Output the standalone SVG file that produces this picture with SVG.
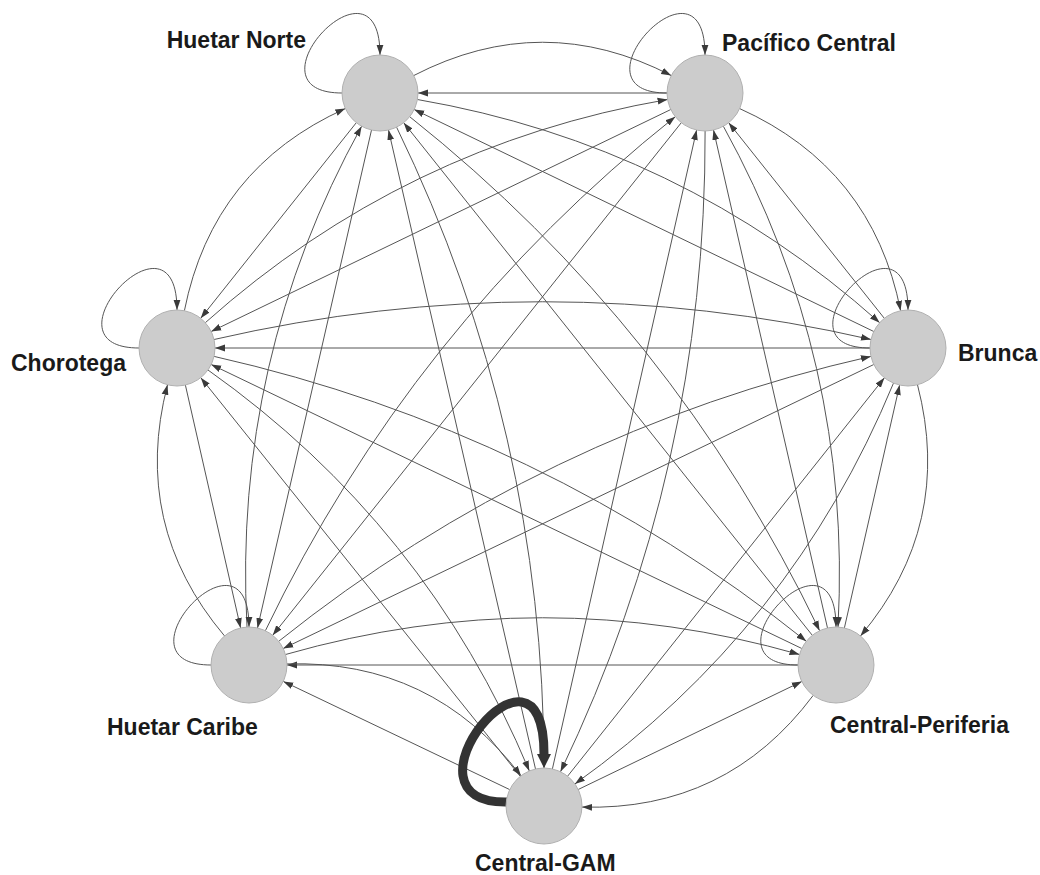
<svg xmlns="http://www.w3.org/2000/svg" width="1040" height="875" viewBox="0 0 1040 875">
<defs>
<marker id="arr" markerUnits="userSpaceOnUse" markerWidth="11" markerHeight="8" refX="10" refY="4" orient="auto">
<path d="M0,0.6 L10,4 L0,7.4 z" fill="#3a3a3a"/>
</marker>
<marker id="arrBig" markerUnits="userSpaceOnUse" markerWidth="16" markerHeight="16" refX="0" refY="8" orient="auto">
<path d="M0,1 L14,8 L0,15 z" fill="#333"/>
</marker>
<style>
.e{fill:none;stroke:#555;stroke-width:1;marker-end:url(#arr)}
.loop{fill:none;stroke:#555;stroke-width:1;marker-end:url(#arr)}
.big{fill:none;stroke:#333;stroke-width:9;marker-end:url(#arrBig)}
.n{fill:#cccccc;stroke:#b0b0b0;stroke-width:1}
.l{font-family:"Liberation Sans",Arial,Helvetica,sans-serif;font-weight:bold;font-size:23px;fill:#1a1a1a}
</style>
</defs>
<rect width="1040" height="875" fill="#fff"/>
<g id="connectors">
<path class="e" d="M667,93 L418,93"/>
<path class="e" d="M873.8,331.5 L414.2,109.5"/>
<path class="e" d="M812.3,635.3 L403.7,122.7"/>
<path class="e" d="M535.5,769 L388.5,130"/>
<path class="e" d="M371.5,130 L257.5,628"/>
<path class="e" d="M356.3,122.7 L200.7,318.3"/>
<path class="e" d="M884.3,318.3 L728.7,122.7"/>
<path class="e" d="M827.5,628 L713.5,130"/>
<path class="e" d="M552.4,768.9 L696.6,130.1"/>
<path class="e" d="M681.3,122.7 L272.7,635.3"/>
<path class="e" d="M670.8,109.5 L211.2,331.5"/>
<path class="e" d="M844.4,627.9 L899.6,385.1"/>
<path class="e" d="M567.6,776.2 L884.4,377.8"/>
<path class="e" d="M873.8,364.5 L283.2,648.5"/>
<path class="e" d="M870,348 L215,348"/>
<path class="e" d="M578.2,789.5 L801.8,681.5"/>
<path class="e" d="M798,665 L287,665"/>
<path class="e" d="M801.8,648.5 L211.2,364.5"/>
<path class="e" d="M509.7,789.6 L283.3,681.4"/>
<path class="e" d="M520.2,776.3 L200.8,377.7"/>
<path class="e" d="M185.4,385.1 L240.6,627.9"/>
<path class="e" d="M413.8,75.5 Q542.5,9 671.2,75.5"/>
<path class="e" d="M417.4,99.5 Q680.5,144.9 879.7,322.7"/>
<path class="e" d="M409.7,116.7 Q673.7,326.6 819.6,630.7"/>
<path class="e" d="M396.6,127.2 Q543.9,430.7 544,768"/>
<path class="e" d="M247,627 Q232.6,360.3 361.6,126.3"/>
<path class="e" d="M184.4,310.7 Q212.8,168.2 345.3,108.6"/>
<path class="e" d="M739.7,108.6 Q872.2,168.2 900.6,310.7"/>
<path class="e" d="M723.4,126.3 Q852.4,360.3 838,627"/>
<path class="e" d="M705.1,131 Q706.4,468 560.5,771.8"/>
<path class="e" d="M265.4,630.7 Q411.3,326.6 675.3,116.7"/>
<path class="e" d="M205.3,322.7 Q404.5,144.9 667.6,99.5"/>
<path class="e" d="M917.5,384.8 Q953.9,525.1 860.5,635.9"/>
<path class="e" d="M893.5,383.1 Q791.8,629.3 574.9,783.9"/>
<path class="e" d="M278.7,641.3 Q542.1,430.8 870.9,356.4"/>
<path class="e" d="M214,339.5 Q542.5,264 871,339.5"/>
<path class="e" d="M813.2,695.4 Q726.5,811.1 582,807.1"/>
<path class="e" d="M285.5,654.5 Q542.5,581 799.5,654.5"/>
<path class="e" d="M214.1,356.4 Q542.9,430.8 806.3,641.3"/>
<path class="e" d="M287,663.9 Q432.7,659.7 521,775.8"/>
<path class="e" d="M208,370 Q426.1,524.5 529.3,770.9"/>
<path class="e" d="M224.5,635.9 Q131.1,525.1 167.5,384.8"/>
<path class="loop" d="M342,93 C240,93 380,-57 380,55"/>
<path class="loop" d="M667,93 C565,93 705,-57 705,55"/>
<path class="loop" d="M139,348 C37,348 177,198 177,310"/>
<path class="loop" d="M870,348 C768,348 908,198 908,310"/>
<path class="loop" d="M211,665 C109,665 249,515 249,627"/>
<path class="loop" d="M798,665 C696,665 836,515 836,627"/>
<path class="big" d="M508,802 C388,805 544,612 544,754"/>
</g>
<g id="node-huetar-norte"><circle class="n" cx="380" cy="93" r="38"/><text class="l" x="306" y="48" text-anchor="end">Huetar Norte</text></g>
<g id="node-pacifico-central"><circle class="n" cx="705" cy="93" r="38"/><text class="l" x="722" y="51">Pacífico Central</text></g>
<g id="node-chorotega"><circle class="n" cx="177" cy="348" r="38"/><text class="l" x="11" y="371">Chorotega</text></g>
<g id="node-brunca"><circle class="n" cx="908" cy="348" r="38"/><text class="l" x="958" y="361">Brunca</text></g>
<g id="node-huetar-caribe"><circle class="n" cx="249" cy="665" r="38"/><text class="l" x="107" y="735">Huetar Caribe</text></g>
<g id="node-central-periferia"><circle class="n" cx="836" cy="665" r="38"/><text class="l" x="830" y="733">Central-Periferia</text></g>
<g id="node-central-gam"><circle class="n" cx="544" cy="806" r="38"/><text class="l" x="475" y="871">Central-GAM</text></g>
</svg>
